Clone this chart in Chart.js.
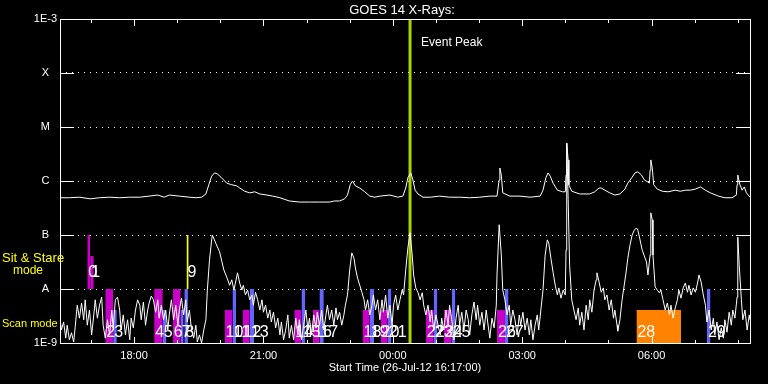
<!DOCTYPE html>
<html>
<head>
<meta charset="utf-8">
<script src="https://cdn.jsdelivr.net/npm/chart.js@4.4.0/dist/chart.umd.min.js"></script>
<style>
  html, body { margin: 0; padding: 0; background: #000; }
  #goesChart { display: block; }
</style>
</head>
<body>
<canvas id="goesChart" width="768" height="384"></canvas>
<script>
// GOES 14 X-ray flux, minutes after 26-Jul-12 16:17:00, values are log10(W/m^2)
const longFlux = [[0,-6.31],[13,-6.31],[27,-6.30],[42,-6.33],[55,-6.31],[69,-6.30],[83,-6.31],[97,-6.30],[111,-6.30],[124,-6.28],[136,-6.26],[145,-6.30],[152,-6.26],[166,-6.28],[180,-6.30],[189,-6.31],[197,-6.30],[203,-6.24],[207,-6.07],[211,-5.91],[215,-5.85],[219,-5.87],[224,-5.93],[232,-6.04],[239,-6.07],[246,-6.09],[250,-6.13],[257,-6.19],[264,-6.22],[271,-6.20],[278,-6.24],[288,-6.26],[296,-6.28],[306,-6.31],[319,-6.37],[333,-6.39],[347,-6.39],[361,-6.39],[375,-6.39],[382,-6.37],[389,-6.37],[396,-6.33],[400,-6.26],[404,-6.06],[407,-6.00],[411,-6.09],[417,-6.13],[424,-6.20],[431,-6.28],[438,-6.30],[445,-6.28],[459,-6.26],[470,-6.30],[477,-6.28],[481,-6.13],[484,-5.94],[488,-5.85],[491,-5.98],[494,-6.17],[498,-6.24],[505,-6.30],[515,-6.30],[528,-6.28],[542,-6.30],[556,-6.30],[570,-6.31],[584,-6.30],[598,-6.28],[608,-6.28],[611,-5.98],[612,-5.76],[614,-5.89],[616,-6.22],[626,-6.28],[640,-6.28],[654,-6.30],[668,-6.28],[672,-6.17],[676,-5.94],[679,-5.85],[682,-5.91],[686,-6.04],[692,-6.17],[699,-6.20],[703,-6.20],[704,-5.89],[705,-5.30],[707,-5.61],[708,-6.07],[712,-6.19],[723,-6.24],[737,-6.24],[744,-6.20],[750,-6.13],[753,-6.13],[758,-6.17],[765,-6.22],[772,-6.26],[779,-6.24],[786,-6.15],[790,-6.04],[796,-5.93],[800,-5.85],[804,-5.83],[809,-5.89],[813,-5.98],[818,-6.02],[820,-6.04],[821,-5.80],[822,-5.61],[824,-5.76],[826,-6.07],[831,-6.15],[838,-6.19],[846,-6.20],[856,-6.17],[863,-6.19],[870,-6.17],[877,-6.17],[884,-6.15],[891,-6.11],[898,-6.17],[905,-6.22],[916,-6.28],[925,-6.31],[935,-6.31],[941,-6.26],[942,-6.07],[943,-5.89],[946,-6.07],[949,-6.17],[952,-6.11],[955,-6.22],[960,-6.30]];

const shortFlux = [[0,-8.54],[2,-8.76],[5,-8.61],[8,-8.91],[10,-8.67],[13,-8.94],[16,-8.81],[19,-8.98],[21,-8.72],[24,-8.30],[27,-8.54],[30,-8.26],[33,-8.57],[35,-8.20],[38,-8.67],[41,-8.39],[44,-8.85],[47,-8.48],[49,-8.20],[52,-8.54],[55,-8.30],[58,-8.15],[60,-8.67],[63,-8.91],[66,-8.57],[69,-8.85],[72,-8.39],[74,-8.72],[77,-8.20],[80,-8.15],[83,-8.39],[85,-8.76],[88,-8.48],[91,-8.85],[94,-8.57],[97,-8.94],[99,-8.54],[102,-8.72],[105,-8.39],[108,-8.20],[111,-8.30],[113,-8.57],[116,-8.24],[119,-8.67],[122,-8.39],[124,-8.26],[127,-8.13],[130,-8.20],[133,-8.43],[136,-8.20],[138,-8.54],[141,-8.30],[144,-8.57],[147,-8.39],[150,-8.76],[152,-8.48],[155,-8.20],[158,-8.57],[161,-8.30],[164,-8.67],[166,-8.39],[169,-8.17],[172,-8.48],[175,-8.20],[177,-8.61],[180,-8.39],[183,-8.76],[186,-8.91],[189,-8.67],[191,-8.98],[194,-8.85],[197,-9.0],[200,-8.76],[203,-8.57],[205,-8.02],[208,-7.46],[211,-7.09],[212,-7.0],[216,-7.13],[222,-7.31],[228,-7.65],[232,-7.78],[236,-7.93],[239,-7.83],[242,-8.02],[244,-7.89],[247,-7.70],[250,-7.89],[253,-8.02],[255,-7.93],[258,-8.11],[261,-8.02],[264,-8.20],[267,-8.11],[269,-8.30],[272,-8.06],[275,-8.20],[278,-8.39],[281,-8.20],[283,-8.43],[286,-8.30],[289,-8.54],[292,-8.39],[294,-8.61],[297,-8.43],[300,-8.72],[303,-8.54],[306,-8.85],[308,-8.61],[311,-8.94],[314,-8.76],[317,-8.48],[319,-8.91],[322,-8.67],[325,-8.94],[328,-8.54],[331,-8.85],[333,-8.57],[336,-8.94],[339,-8.67],[342,-8.39],[345,-8.76],[347,-8.54],[350,-8.85],[353,-8.48],[356,-8.72],[358,-8.43],[361,-8.67],[364,-8.39],[367,-8.76],[370,-8.48],[372,-8.30],[375,-8.57],[378,-8.39],[381,-8.67],[384,-8.35],[386,-8.57],[389,-8.43],[392,-8.67],[395,-8.48],[397,-8.30],[400,-8.11],[403,-7.65],[406,-7.33],[409,-7.43],[411,-7.61],[414,-7.80],[417,-7.93],[420,-8.06],[423,-8.20],[425,-8.39],[428,-8.20],[431,-8.48],[434,-8.30],[436,-8.11],[439,-8.39],[442,-8.20],[445,-8.57],[448,-8.20],[450,-8.43],[453,-8.11],[456,-8.54],[459,-8.30],[462,-8.67],[464,-8.30],[467,-8.11],[470,-8.39],[473,-8.20],[476,-8.02],[478,-8.11],[481,-7.65],[484,-7.24],[487,-6.96],[490,-7.37],[492,-7.74],[495,-7.98],[498,-8.06],[501,-8.20],[504,-8.07],[506,-8.30],[509,-8.48],[512,-8.30],[515,-8.61],[517,-8.39],[520,-8.76],[523,-8.48],[526,-8.67],[529,-8.85],[531,-8.54],[534,-8.76],[537,-8.39],[540,-8.67],[542,-8.30],[545,-8.57],[548,-8.94],[551,-8.54],[554,-8.30],[556,-8.67],[559,-8.43],[562,-8.76],[565,-8.39],[568,-8.57],[570,-8.85],[573,-8.48],[576,-8.24],[579,-8.57],[581,-8.30],[584,-8.67],[587,-8.43],[590,-8.76],[593,-8.39],[595,-8.61],[598,-8.91],[601,-8.54],[604,-8.72],[607,-8.30],[608,-7.74],[611,-6.81],[614,-7.37],[616,-8.02],[619,-8.20],[622,-8.48],[625,-8.30],[627,-8.67],[630,-8.39],[633,-8.57],[636,-8.85],[639,-8.48],[641,-8.67],[644,-8.43],[647,-8.76],[650,-8.54],[653,-8.85],[655,-8.57],[658,-8.94],[661,-8.67],[664,-8.48],[666,-8.76],[669,-8.39],[672,-8.02],[675,-7.37],[678,-7.09],[680,-7.15],[683,-7.43],[686,-7.69],[689,-7.93],[692,-8.11],[694,-7.98],[697,-8.17],[700,-8.02],[703,-8.11],[704,-7.28],[705,-5.30],[707,-6.35],[709,-7.56],[712,-8.20],[715,-8.39],[718,-8.57],[721,-8.35],[723,-8.67],[726,-8.43],[729,-8.76],[732,-8.30],[735,-8.57],[737,-8.20],[740,-8.43],[743,-8.02],[746,-7.83],[747,-7.70],[750,-7.87],[753,-8.06],[756,-7.98],[758,-8.20],[761,-8.11],[764,-8.39],[767,-8.20],[770,-8.54],[772,-8.39],[775,-8.67],[776,-8.78],[779,-8.57],[782,-8.20],[785,-7.93],[788,-7.65],[790,-7.43],[793,-7.19],[796,-7.00],[799,-6.91],[802,-6.87],[804,-6.91],[807,-7.09],[810,-7.28],[813,-7.39],[816,-7.50],[818,-7.74],[821,-7.37],[822,-6.59],[824,-6.72],[825,-7.37],[828,-7.96],[831,-8.02],[834,-8.07],[836,-8.02],[839,-8.20],[842,-8.39],[845,-8.26],[848,-8.48],[850,-8.30],[853,-8.54],[856,-8.35],[859,-8.20],[861,-8.02],[864,-8.17],[867,-7.98],[870,-7.89],[873,-8.06],[875,-7.93],[878,-8.11],[881,-7.98],[884,-8.06],[887,-7.89],[889,-7.74],[892,-7.87],[895,-8.11],[898,-8.30],[900,-8.61],[903,-8.39],[906,-8.76],[909,-8.54],[911,-8.85],[914,-8.61],[917,-8.94],[920,-8.72],[923,-8.91],[925,-8.57],[928,-8.80],[931,-8.43],[934,-8.67],[936,-8.39],[939,-8.54],[942,-8.15],[943,-7.04],[945,-7.56],[948,-8.20],[950,-8.57],[953,-8.39],[956,-8.76],[959,-8.48],[960,-8.57]];

// observation windows (minutes after start), top level as log10 flux
const barIds   = [0,1,2,3,4,5,6,7,8,9,10,11,12,13,14,15,16,17,18,19,20,21,22,23,24,25,26,27,28,29];
const barStart = [38,42,63,74,131,143,157,168,173,176,229,240,254,264,326,336,352,361,421,431,446,456,509,520,534,545,608,619,802,900];
const barEnd   = [42,47,74,79,143,148,168,172,178,179,240,245,264,270,336,341,361,367,431,437,456,461,520,525,545,550,619,624,864,905];
const barTop   = [-7,-7.39,-8,-8.39,-8,-8.39,-8,-8.39,-8,-7,-8.39,-8,-8.39,-8,-8.39,-8,-8.39,-8,-8.39,-8,-8.39,-8,-8.39,-8,-8.39,-8,-8.39,-8,-8.39,-8];
const barKind  = ['m','m','m','b','m','b','m','b','b','y','m','b','m','b','m','b','m','b','m','b','m','b','m','b','m','b','m','b','o','b'];
const barMode  = ['stare','stare','scan','scan','scan','scan','scan','scan','scan','stare','scan','scan','scan','scan','scan','scan','scan','scan','scan','scan','scan','scan','scan','scan','scan','scan','scan','scan','scan','scan'];

const levelExp    = [-9, -8, -7, -6, -5, -4, -3];
const levelLabels = ['1E-9', 'A', 'B', 'C', 'M', 'X', '1E-3'];
const hourMinutes = [43, 103, 163, 223, 283, 343, 403, 463, 523, 583, 643, 703, 763, 823, 883, 943];
const tickMinutes = [103, 283, 463, 643, 823];
const tickLabels  = ['18:00', '21:00', '00:00', '03:00', '06:00'];
const eventPeak = 487;

const kindColor = { m: '#c800c8', b: '#6464ff', o: '#ff8200', y: '#ffff00' };
const FONT = '"Liberation Sans", Arial, sans-serif';
const pow = v => Math.pow(10, v);
const toPts = arr => arr.map(([t, v]) => ({ x: t, y: pow(v) }));

const barSets = barIds.map((id, i) => ({
  label: 'obs ' + id,
  data: [{ x: barStart[i], y: pow(barTop[i]) }, { x: barEnd[i], y: pow(barTop[i]) }],
  fill: { value: barMode[i] === 'stare' ? 1e-8 : 1e-9 },
  backgroundColor: kindColor[barKind[i]],
  borderWidth: 0,
  pointRadius: 0,
  order: 3
}));

const overlay = {
  id: 'overlay',
  afterDatasetsDraw(chart) {
    const { ctx, chartArea: a, scales: { x, y } } = chart;
    ctx.save();
    // observation numbers
    ctx.fillStyle = '#fff';
    ctx.font = '16px ' + FONT;
    ctx.textBaseline = 'middle';
    ctx.textAlign = 'left';
    barIds.forEach((id, i) => {
      const py = y.getPixelForValue(pow(barMode[i] === 'stare' ? -7.69 : -8.8));
      ctx.fillText(String(id), x.getPixelForValue(barStart[i]) + 1, py);
    });

    // frame
    ctx.strokeStyle = '#fff';
    ctx.lineWidth = 1;
    ctx.strokeRect(a.left + 0.5, a.top + 0.5, a.right - a.left, a.bottom - a.top);

    // decade ticks, both sides
    ctx.beginPath();
    levelExp.forEach(v => {
      const py = Math.round(y.getPixelForValue(pow(v))) + 0.5;
      ctx.moveTo(a.left, py); ctx.lineTo(a.left + 14, py);
      ctx.moveTo(a.right - 14, py); ctx.lineTo(a.right + 1, py);
    });
    // hour ticks, top and bottom
    hourMinutes.forEach(m => {
      const px = Math.round(x.getPixelForValue(m)) + 0.5;
      const len = tickMinutes.includes(m) ? 7 : 4;
      ctx.moveTo(px, a.top); ctx.lineTo(px, a.top + len);
      ctx.moveTo(px, a.bottom + 1); ctx.lineTo(px, a.bottom + 1 - len);
    });
    ctx.stroke();

    // title and annotations
    ctx.textBaseline = 'middle';
    ctx.textAlign = 'center';
    ctx.font = '13px ' + FONT;
    ctx.fillText('GOES 14 X-Rays:', (a.left + a.right) / 2 - 3, 10);
    ctx.textAlign = 'left';
    ctx.font = '12px ' + FONT;
    ctx.fillText('Event Peak', x.getPixelForValue(eventPeak) + 11, 43);

    ctx.fillStyle = '#ffff00';
    ctx.font = '13px ' + FONT;
    ctx.fillText('Sit & Stare', 2, y.getPixelForValue(pow(-7.44)));
    ctx.font = '12px ' + FONT;
    ctx.fillText('mode', 13, y.getPixelForValue(pow(-7.67)));
    ctx.font = '11px ' + FONT;
    ctx.fillText('Scan mode', 2, y.getPixelForValue(pow(-8.65)));
    ctx.restore();
  }
};

new Chart(document.getElementById('goesChart'), {
  type: 'line',
  data: {
    datasets: [
      { label: 'short', data: toPts(shortFlux), borderColor: '#fff', borderWidth: 1, pointRadius: 0, order: 0 },
      { label: 'long', data: toPts(longFlux), borderColor: '#fff', borderWidth: 1, pointRadius: 0, order: 0 },
      { label: 'peak', data: [{ x: eventPeak, y: 1e-3 }, { x: eventPeak, y: 1e-9 }], borderColor: '#a8d400', borderWidth: 3, pointRadius: 0, order: 1 },
      ...barSets
    ]
  },
  options: {
    responsive: false,
    animation: false,
    devicePixelRatio: 1,
    layout: { padding: { top: 19, right: 18, left: 0, bottom: 0 } },
    plugins: { legend: { display: false }, tooltip: { enabled: false } },
    scales: {
      x: {
        type: 'linear', min: 0, max: 960,
        afterBuildTicks: s => { s.ticks = tickMinutes.map(v => ({ value: v })); },
        afterFit: s => { s.height = 41; },
        grid: { display: false },
        border: { display: false },
        ticks: {
          color: '#fff', font: { family: FONT, size: 11 }, padding: -2,
          maxRotation: 0, autoSkip: false,
          callback: v => tickLabels[tickMinutes.indexOf(v)] ?? ''
        },
        title: {
          display: true, text: 'Start Time (26-Jul-12 16:17:00)', color: '#fff',
          font: { family: FONT, size: 11 }, padding: { top: 0, bottom: 9 }
        }
      },
      y: {
        type: 'logarithmic', min: 1e-9, max: 1e-3,
        afterBuildTicks: s => { s.ticks = levelExp.map(v => ({ value: pow(v) })); },
        afterFit: s => { s.width = 60; },
        grid: { color: '#fff', lineWidth: 1, drawTicks: false },
        border: { display: false, dash: [1, 5] },
        ticks: {
          color: '#fff', font: { family: FONT, size: 11 }, padding: 3,
          crossAlign: 'center', autoSkip: false,
          callback: v => levelLabels[levelExp.indexOf(Math.round(Math.log10(v)))]
        }
      }
    }
  },
  plugins: [overlay]
});
</script>
</body>
</html>
